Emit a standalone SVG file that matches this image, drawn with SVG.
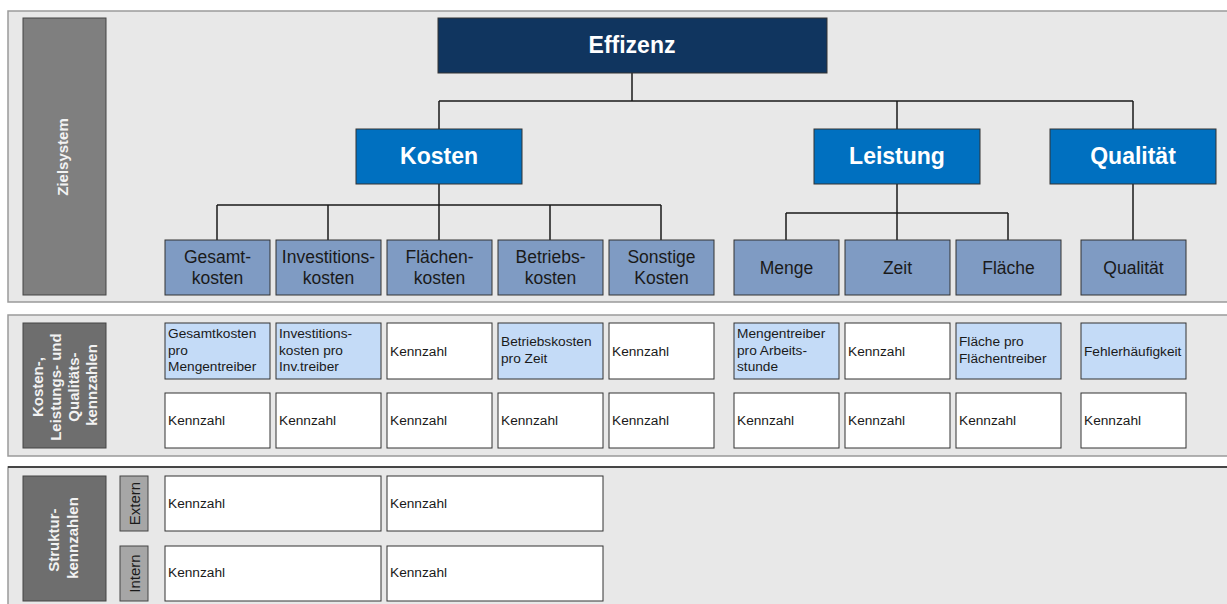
<svg xmlns="http://www.w3.org/2000/svg" width="1227" height="604" viewBox="0 0 1227 604">
  <style>
    .panel { fill: #e8e8e8; stroke: #9a9a9a; stroke-width: 1.5; }
    .side { stroke: #444; stroke-width: 1; }
    .side-txt { font-family: "Liberation Sans", Arial, sans-serif; font-weight: bold; font-size: 15px; fill: #f2f2f2; text-anchor: middle; }
    .top { fill: #10355f; stroke: #333; stroke-width: 1; }
    .mid { fill: #0070c0; stroke: #333; stroke-width: 1; }
    .head-txt { font-family: "Liberation Sans", Arial, sans-serif; font-weight: bold; font-size: 23px; fill: #ffffff; text-anchor: middle; }
    .sub { fill: #7f9bc3; stroke: #333; stroke-width: 1; }
    .sub-txt { font-family: "Liberation Sans", Arial, sans-serif; font-size: 17.5px; fill: #1a1a1a; text-anchor: middle; }
    .kz { fill: #ffffff; stroke: #333; stroke-width: 1; }
    .kz-hl { fill: #c4dbf7; stroke: #333; stroke-width: 1; }
    .kz-txt { font-family: "Liberation Sans", Arial, sans-serif; font-size: 13.7px; fill: #1a1a1a; }
    .tag { fill: #a6a6a6; stroke: #444; stroke-width: 1; }
    .tag-txt { font-family: "Liberation Sans", Arial, sans-serif; font-size: 15px; fill: #1a1a1a; text-anchor: middle; }
    .conn { fill: none; stroke: #1a1a1a; stroke-width: 1.5; }
  </style>

  <rect width="1227" height="604" fill="#ffffff"/>

  <!-- Panels -->
  <rect class="panel" x="8" y="11" width="1240" height="291"/>
  <rect class="panel" x="8" y="315" width="1240" height="141"/>
  <rect class="panel" x="8" y="467" width="1240" height="150"/>
  <line x1="8" y1="467" x2="1227" y2="467" stroke="#222" stroke-width="1.5"/>

  <!-- Side labels -->
  <g id="label-zielsystem">
    <rect class="side" x="23" y="18" width="83" height="277" fill="#7f7f7f"/>
    <text class="side-txt" transform="translate(68,157) rotate(-90)">Zielsystem</text>
  </g>
  <g id="label-kennzahlen">
    <rect class="side" x="23" y="323" width="83" height="125" fill="#6e6e6e"/>
    <text class="side-txt" transform="translate(65,385) rotate(-90)">
      <tspan x="0" y="-22">Kosten-,</tspan>
      <tspan x="0" y="-4">Leistungs- und</tspan>
      <tspan x="0" y="14">Qualitäts-</tspan>
      <tspan x="0" y="32">kennzahlen</tspan>
    </text>
  </g>
  <g id="label-struktur">
    <rect class="side" x="23" y="476" width="83" height="125" fill="#6e6e6e"/>
    <text class="side-txt" transform="translate(63,538) rotate(-90)">
      <tspan x="0" y="-4.5">Struktur-</tspan>
      <tspan x="0" y="14.5">kennzahlen</tspan>
    </text>
  </g>
  <g id="tag-extern">
    <rect class="tag" x="120" y="476" width="28" height="55"/>
    <text class="tag-txt" transform="translate(139.5,503.5) rotate(-90)">Extern</text>
  </g>
  <g id="tag-intern">
    <rect class="tag" x="120" y="546" width="28" height="55"/>
    <text class="tag-txt" transform="translate(139.5,573.5) rotate(-90)">Intern</text>
  </g>

  <!-- Connectors -->
  <g id="connectors">
    <path class="conn" d="M632,73 V101 M439,101 H1133 M439,101 V129 M897,101 V129 M1133,101 V129"/>
    <path class="conn" d="M439,184 V240 M217,205 H661 M217,205 V240 M328,205 V240 M550,205 V240 M661,205 V240"/>
    <path class="conn" d="M897,184 V240 M786,213 H1008 M786,213 V240 M1008,213 V240"/>
    <path class="conn" d="M1133,184 V240"/>
  </g>

  <!-- Goal hierarchy -->
  <g id="effizenz">
    <rect class="top" x="438" y="18" width="389" height="55"/>
    <text class="head-txt" x="632" y="53">Effizenz</text>
  </g>
  <g id="kosten">
    <rect class="mid" x="356" y="129" width="166" height="55"/>
    <text class="head-txt" x="439" y="164">Kosten</text>
  </g>
  <g id="leistung">
    <rect class="mid" x="814" y="129" width="166" height="55"/>
    <text class="head-txt" x="897" y="164">Leistung</text>
  </g>
  <g id="qualitaet">
    <rect class="mid" x="1050" y="129" width="166" height="55"/>
    <text class="head-txt" x="1133" y="164">Qualität</text>
  </g>

  <g id="gesamtkosten">
    <rect class="sub" x="165" y="240" width="105" height="55"/>
    <text class="sub-txt"><tspan x="217.5" y="263">Gesamt-</tspan><tspan x="217.5" y="284">kosten</tspan></text>
  </g>
  <g id="investitionskosten">
    <rect class="sub" x="276" y="240" width="105" height="55"/>
    <text class="sub-txt"><tspan x="328.5" y="263">Investitions-</tspan><tspan x="328.5" y="284">kosten</tspan></text>
  </g>
  <g id="flaechenkosten">
    <rect class="sub" x="387" y="240" width="105" height="55"/>
    <text class="sub-txt"><tspan x="439.5" y="263">Flächen-</tspan><tspan x="439.5" y="284">kosten</tspan></text>
  </g>
  <g id="betriebskosten">
    <rect class="sub" x="498" y="240" width="105" height="55"/>
    <text class="sub-txt"><tspan x="550.5" y="263">Betriebs-</tspan><tspan x="550.5" y="284">kosten</tspan></text>
  </g>
  <g id="sonstige-kosten">
    <rect class="sub" x="609" y="240" width="105" height="55"/>
    <text class="sub-txt"><tspan x="661.5" y="263">Sonstige</tspan><tspan x="661.5" y="284">Kosten</tspan></text>
  </g>
  <g id="menge">
    <rect class="sub" x="734" y="240" width="105" height="55"/>
    <text class="sub-txt" x="786.5" y="274">Menge</text>
  </g>
  <g id="zeit">
    <rect class="sub" x="845" y="240" width="105" height="55"/>
    <text class="sub-txt" x="897.5" y="274">Zeit</text>
  </g>
  <g id="flaeche">
    <rect class="sub" x="956" y="240" width="105" height="55"/>
    <text class="sub-txt" x="1008.5" y="274">Fläche</text>
  </g>
  <g id="qualitaet-sub">
    <rect class="sub" x="1081" y="240" width="105" height="55"/>
    <text class="sub-txt" x="1133.5" y="274">Qualität</text>
  </g>

  <!-- Cost, performance and quality indicators: row 1 -->
  <g id="kz-gesamt-1">
    <rect class="kz-hl" x="165" y="323" width="105" height="56"/>
    <text class="kz-txt"><tspan x="168" y="338">Gesamtkosten</tspan><tspan x="168" y="354.5">pro</tspan><tspan x="168" y="371">Mengentreiber</tspan></text>
  </g>
  <g id="kz-invest-1">
    <rect class="kz-hl" x="276" y="323" width="105" height="56"/>
    <text class="kz-txt"><tspan x="279" y="338">Investitions-</tspan><tspan x="279" y="354.5">kosten pro</tspan><tspan x="279" y="371">Inv.treiber</tspan></text>
  </g>
  <g id="kz-flaechen-1">
    <rect class="kz" x="387" y="323" width="105" height="56"/>
    <text class="kz-txt" x="390" y="356">Kennzahl</text>
  </g>
  <g id="kz-betrieb-1">
    <rect class="kz-hl" x="498" y="323" width="105" height="56"/>
    <text class="kz-txt"><tspan x="501" y="346">Betriebskosten</tspan><tspan x="501" y="363">pro Zeit</tspan></text>
  </g>
  <g id="kz-sonstige-1">
    <rect class="kz" x="609" y="323" width="105" height="56"/>
    <text class="kz-txt" x="612" y="356">Kennzahl</text>
  </g>
  <g id="kz-menge-1">
    <rect class="kz-hl" x="734" y="323" width="105" height="56"/>
    <text class="kz-txt"><tspan x="737" y="338">Mengentreiber</tspan><tspan x="737" y="354.5">pro Arbeits-</tspan><tspan x="737" y="371">stunde</tspan></text>
  </g>
  <g id="kz-zeit-1">
    <rect class="kz" x="845" y="323" width="105" height="56"/>
    <text class="kz-txt" x="848" y="356">Kennzahl</text>
  </g>
  <g id="kz-flaeche-1">
    <rect class="kz-hl" x="956" y="323" width="105" height="56"/>
    <text class="kz-txt"><tspan x="959" y="346">Fläche pro</tspan><tspan x="959" y="363">Flächentreiber</tspan></text>
  </g>
  <g id="kz-qualitaet-1">
    <rect class="kz-hl" x="1081" y="323" width="105" height="56"/>
    <text class="kz-txt" x="1084" y="356">Fehlerhäufigkeit</text>
  </g>

  <!-- Cost, performance and quality indicators: row 2 -->
  <g id="kz-gesamt-2"><rect class="kz" x="165" y="393" width="105" height="55"/><text class="kz-txt" x="168" y="425">Kennzahl</text></g>
  <g id="kz-invest-2"><rect class="kz" x="276" y="393" width="105" height="55"/><text class="kz-txt" x="279" y="425">Kennzahl</text></g>
  <g id="kz-flaechen-2"><rect class="kz" x="387" y="393" width="105" height="55"/><text class="kz-txt" x="390" y="425">Kennzahl</text></g>
  <g id="kz-betrieb-2"><rect class="kz" x="498" y="393" width="105" height="55"/><text class="kz-txt" x="501" y="425">Kennzahl</text></g>
  <g id="kz-sonstige-2"><rect class="kz" x="609" y="393" width="105" height="55"/><text class="kz-txt" x="612" y="425">Kennzahl</text></g>
  <g id="kz-menge-2"><rect class="kz" x="734" y="393" width="105" height="55"/><text class="kz-txt" x="737" y="425">Kennzahl</text></g>
  <g id="kz-zeit-2"><rect class="kz" x="845" y="393" width="105" height="55"/><text class="kz-txt" x="848" y="425">Kennzahl</text></g>
  <g id="kz-flaeche-2"><rect class="kz" x="956" y="393" width="105" height="55"/><text class="kz-txt" x="959" y="425">Kennzahl</text></g>
  <g id="kz-qualitaet-2"><rect class="kz" x="1081" y="393" width="105" height="55"/><text class="kz-txt" x="1084" y="425">Kennzahl</text></g>

  <!-- Structural indicators -->
  <g id="sk-extern-1"><rect class="kz" x="165" y="476" width="216" height="55"/><text class="kz-txt" x="168" y="508">Kennzahl</text></g>
  <g id="sk-extern-2"><rect class="kz" x="387" y="476" width="216" height="55"/><text class="kz-txt" x="390" y="508">Kennzahl</text></g>
  <g id="sk-intern-1"><rect class="kz" x="165" y="546" width="216" height="55"/><text class="kz-txt" x="168" y="577">Kennzahl</text></g>
  <g id="sk-intern-2"><rect class="kz" x="387" y="546" width="216" height="55"/><text class="kz-txt" x="390" y="577">Kennzahl</text></g>
</svg>
